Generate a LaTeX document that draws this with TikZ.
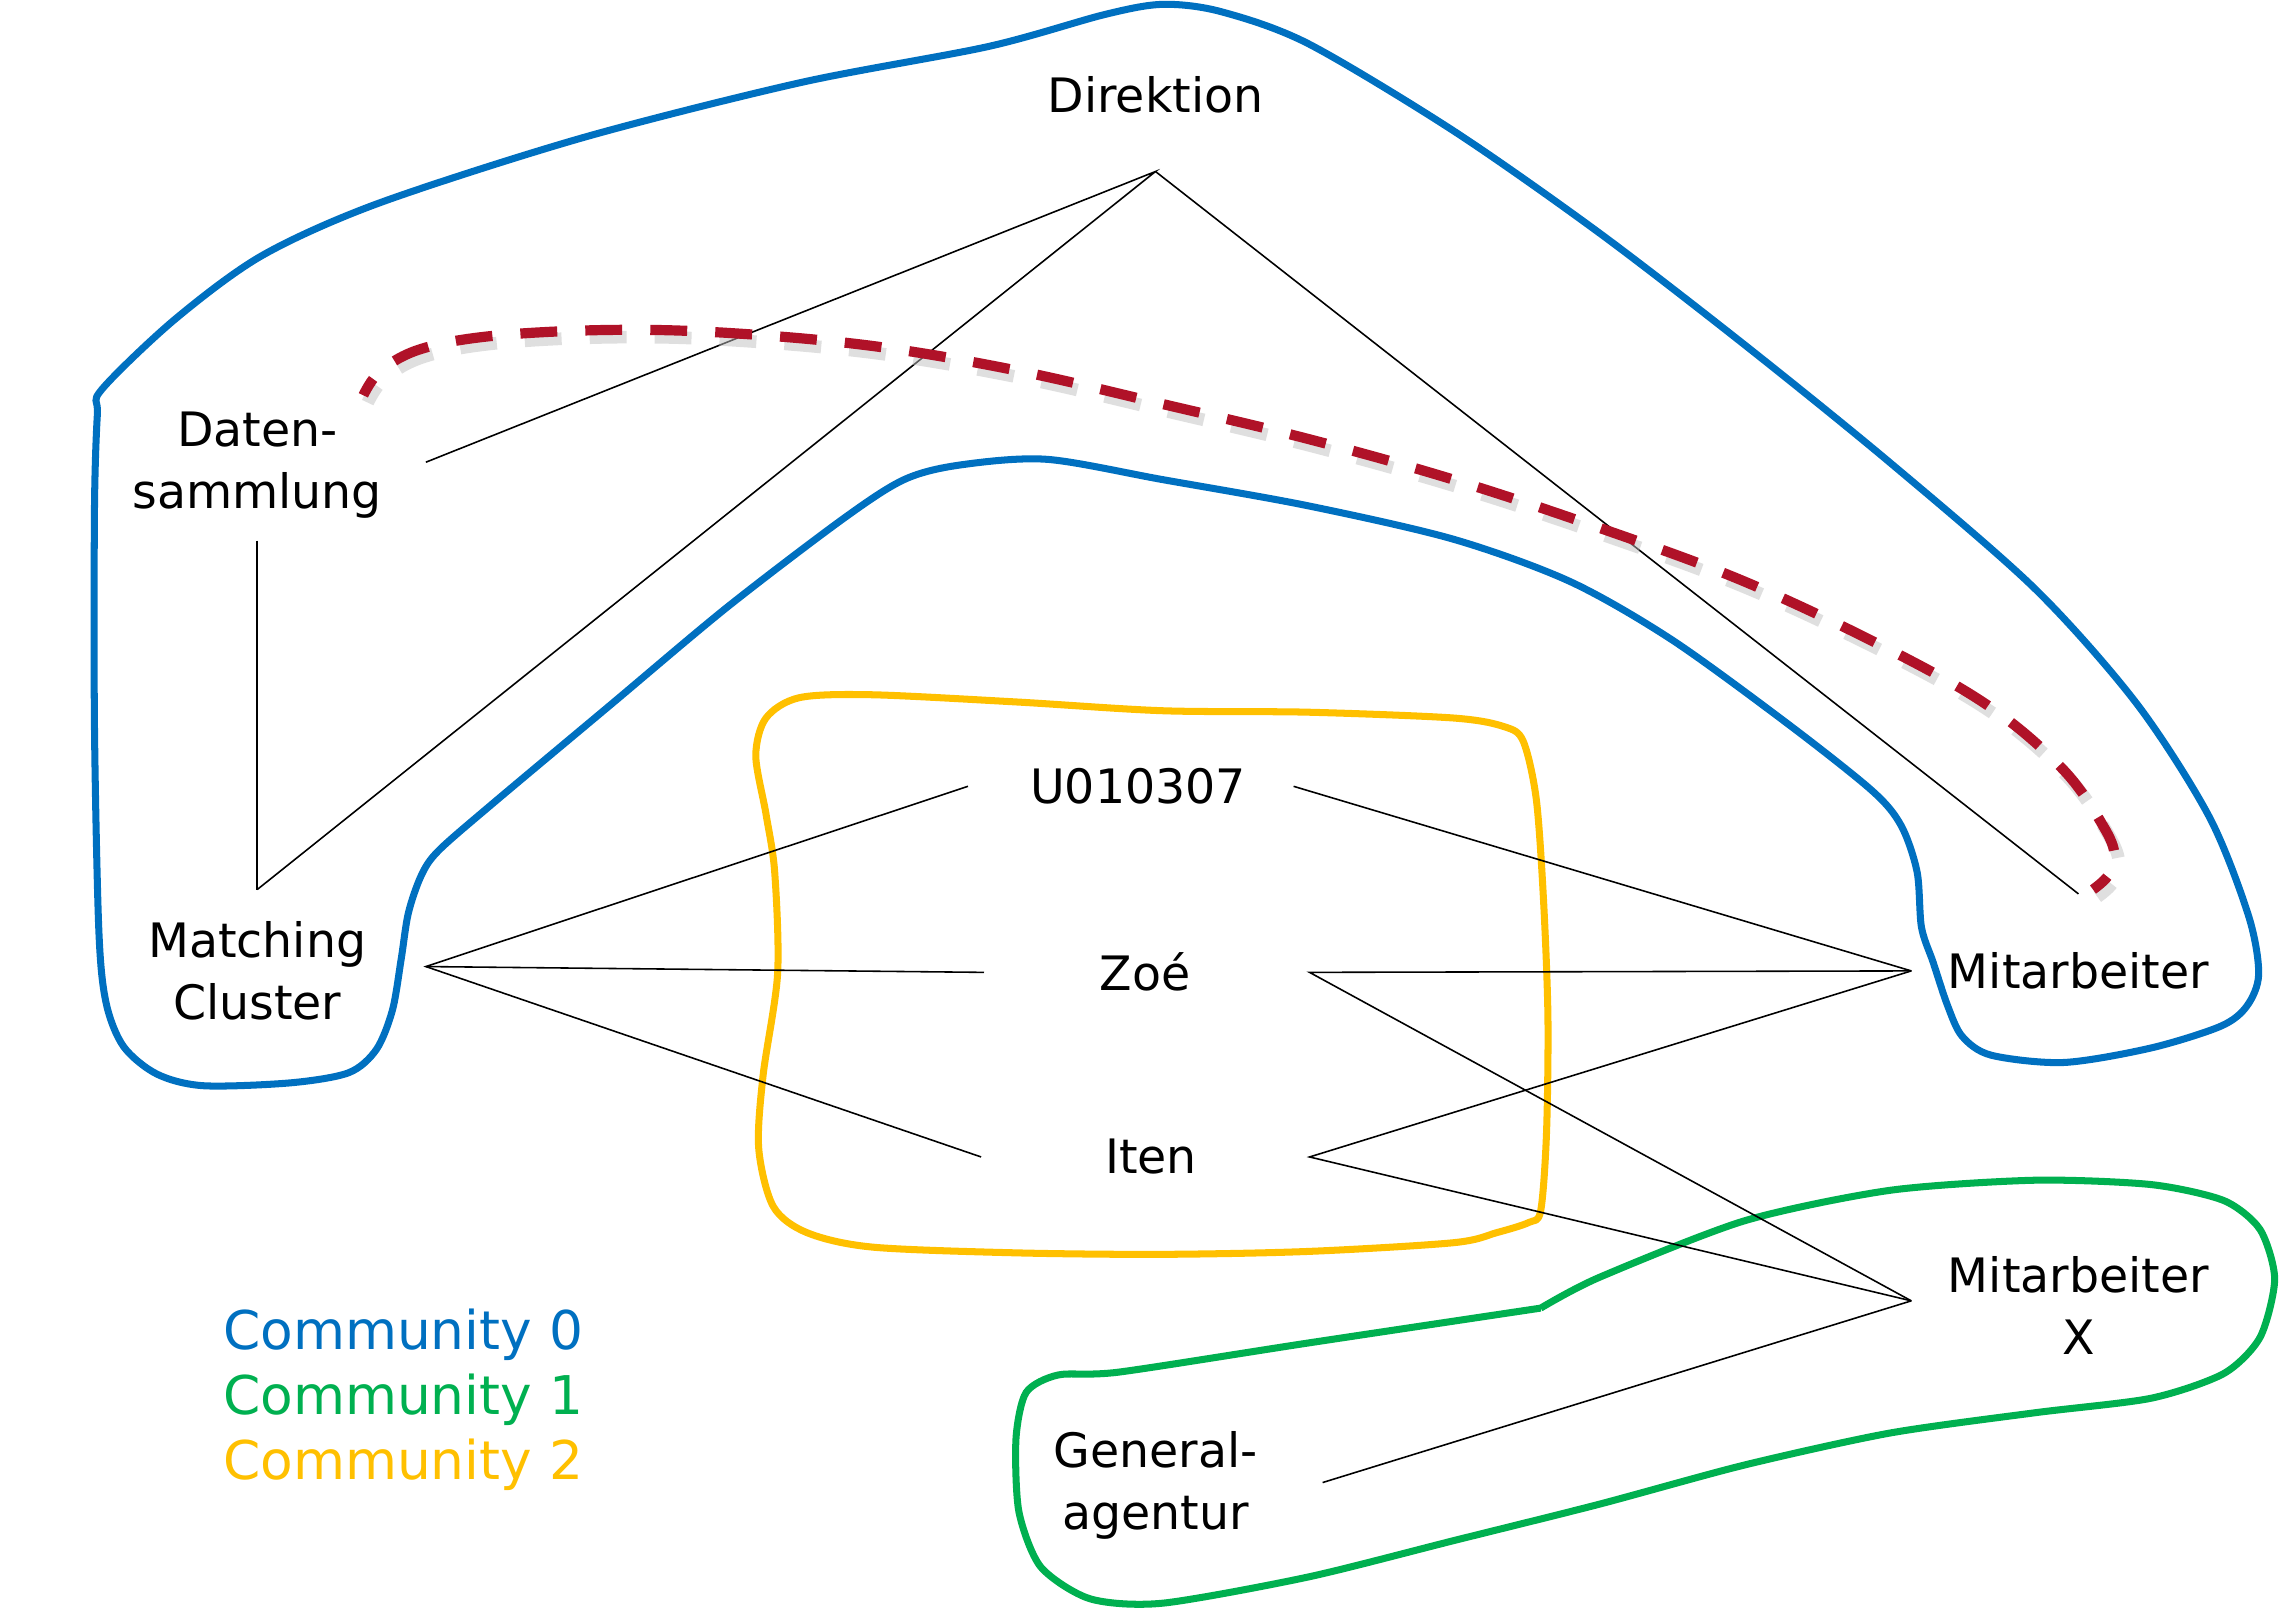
\documentclass[tikz,border=0pt]{standalone}
\usepackage{fontspec}
\setmainfont{DejaVu Sans}
\definecolor{cblue}{HTML}{0070C0}
\definecolor{cgreen}{HTML}{00B050}
\definecolor{cyellow}{HTML}{FFC000}
\definecolor{cred}{HTML}{B01228}
\tikzset{
  lbl/.style={align=center, inner sep=0pt, font=\fontsize{13.5}{17.6}\selectfont},
  legend/.style={anchor=west, inner sep=0pt, font=\fontsize{15.2}{18}\selectfont},
  edge/.style={black, line width=0.45pt},
  blob/.style={line width=2pt, line join=round},
  redlink/.style={line width=2.9pt, dash pattern=on 10.5pt off 8pt, dash phase=5pt, line cap=butt},
}
\begin{document}
\begin{tikzpicture}[x=0.014534cm, y=-0.014534cm]
\useasboundingbox (0,0) rectangle (1568,1107);

% Community blobs
\draw[blob, cblue] plot[smooth cycle, tension=0.5] coordinates {
 (70,268) (120,220) (180,176) (260,140) (400,95) (550,57) (680,32) (760,10) (800,3) (840,8) (900,30)
 (1000,90) (1100,160) (1200,237) (1300,318) (1400,405) (1470,484) (1520,562) (1547,630) (1554,670)
 (1546,692) (1528,706) (1480,721) (1420,731) (1370,726) (1350,713) (1340,692) (1330,662) (1322,638)
 (1319,600) (1308,568) (1288,544) (1230,498) (1150,440) (1080,400) (1000,371) (900,348) (800,330)
 (720,316) (660,320) (622,330) (580,357) (500,418) (420,485) (340,552) (302,585) (290,602) (281,628)
 (276,660) (270,695) (259,722) (240,738) (200,745) (140,747) (108,739) (85,720) (73,690) (68,640)
 (65,500) (65,350) (67,285)};
\draw[blob, cyellow] plot[smooth cycle, tension=0.5] coordinates {
 (550,480) (600,478) (700,483) (800,489) (900,490) (1000,494) (1035,500) (1048,510) (1057,550)
 (1062,620) (1065,700) (1064,780) (1060,833) (1052,841) (1030,848) (1000,855) (900,861) (800,863)
 (700,862) (600,858) (555,848) (532,830) (522,790) (525,740) (535,670) (533,600) (527,560) (520,520) (527,494)};
\draw[blob, cgreen] plot[smooth, tension=0.45] coordinates {
 (1060,900) (1100,879) (1200,840) (1300,819) (1400,812) (1480,815) (1530,826)
 (1555,846) (1565,880) (1555,920) (1530,945) (1480,962) (1400,972) (1300,986) (1200,1008) (1100,1035)
 (1000,1060) (900,1085) (800,1103) (750,1100) (716,1078) (701,1040) (699,990) (706,958) (728,946)
 (770,944) (900,924) (1060,900)};

% Nodes
\node[lbl] (dir) at (795,65) {Direktion};
\node[lbl] (dat) at (177,320) {Daten-\\sammlung};
\node[lbl] (mc) at (177,668) {Matching\\Cluster};
\node[lbl] (u) at (783,541) {U010307};
\node[lbl] (z) at (788,669) {Zoé};
\node[lbl] (it) at (792,796) {Iten};
\node[lbl] (m) at (1430,668) {Mitarbeiter};
\node[lbl] (mx) at (1430,898) {Mitarbeiter\\X};
\node[lbl] (g) at (795,1022) {General-\\agentur};

% Ports
\coordinate (dir-s) at (795,118);
\coordinate (dat-e) at (293,318);
\coordinate (dat-s) at (177,372);
\coordinate (mc-n) at (177,612);
\coordinate (mc-e) at (293,665);
\coordinate (u-w) at (666,541);
\coordinate (u-e) at (890,541);
\coordinate (z-w) at (677,669);
\coordinate (z-e) at (901,669);
\coordinate (i-w) at (675,796);
\coordinate (i-e) at (901,796);
\coordinate (m-n) at (1430,615);
\coordinate (m-w) at (1315,668);
\coordinate (mx-w) at (1315,895);
\coordinate (g-e) at (910,1020);

% Edges
\draw[edge] (dat-e) -- (dir-s) -- (mc-n);
\draw[edge] (dir-s) -- (m-n);
\draw[edge] (dat-s) -- (mc-n);
\draw[edge] (u-w) -- (mc-e) -- (i-w);
\draw[edge] (mc-e) -- (z-w);
\draw[edge] (u-e) -- (m-w);
\draw[edge] (m-w) -- (z-e) -- (mx-w);
\draw[edge] (m-w) -- (i-e) -- (mx-w);
\draw[edge] (g-e) -- (mx-w);

% Dashed red link (drawn from the Mitarbeiter end) with soft shadow
\begin{scope}[shift={(3,5)}]
\draw[redlink, black!25, opacity=0.5, line width=3.6pt]
 plot[smooth, tension=0.6] coordinates {
 (1440,612) (1450,603) (1455,590) (1448,570) (1420,530) (1370,487) (1300,447) (1200,400) (1100,363)
 (1000,330) (900,302) (800,278) (700,255) (600,238) (500,229) (420,227) (340,231) (290,240) (262,255) (250,272)};
\end{scope}
\draw[redlink, cred]
 plot[smooth, tension=0.6] coordinates {
 (1440,612) (1450,603) (1455,590) (1448,570) (1420,530) (1370,487) (1300,447) (1200,400) (1100,363)
 (1000,330) (900,302) (800,278) (700,255) (600,238) (500,229) (420,227) (340,231) (290,240) (262,255) (250,272)};

% Legend
\node[legend, text=cblue] (l0) at (153,918) {Community 0};
\node[legend, text=cgreen] (l1) at (153,963) {Community 1};
\node[legend, text=cyellow] (l2) at (153,1008) {Community 2};
\end{tikzpicture}
\end{document}
